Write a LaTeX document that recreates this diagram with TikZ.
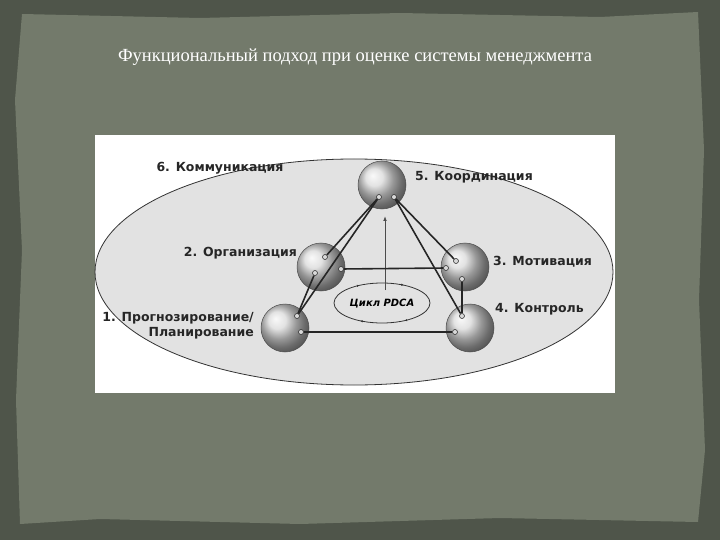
\documentclass[tikz,border=0pt]{standalone}
\usepackage{fontspec}
\setmainfont{Liberation Serif}
\newfontfamily\lblfont{DejaVu Sans}
\usetikzlibrary{arrows.meta,decorations.markings,shapes.geometric}
\definecolor{bgdark}{HTML}{4F554A}
\definecolor{slide}{HTML}{737A6B}
\definecolor{ellfill}{HTML}{E2E2E2}
\tikzset{
  lbl/.style={font=\lblfont\bfseries\fontsize{12.5}{15}\selectfont, text=black!85, inner sep=0pt},
  ball/.style={circle, minimum size=48pt, draw=gray!60!black, line width=0.5pt, shading=ball, ball color=gray!30},
  port/.style={circle, minimum size=5pt, inner sep=0pt, draw=black!80, fill=gray!30, line width=0.6pt},
  link/.style={line width=1.6pt, black!85},
}
\begin{document}
\begin{tikzpicture}[x=1pt,y=-1pt]
\useasboundingbox (0,0) rectangle (720,540);
\fill[bgdark] (0,0) rectangle (720,540);
\fill[slide] (22,14) -- (200,18) -- (400,13) -- (600,17) -- (698,12) -- (704,150) -- (699,300) -- (705,450) -- (698,522) -- (500,518) -- (300,524) -- (100,519) -- (20,524) -- (16,400) -- (22,250) -- (15,100) -- cycle;
\node[text=white!95, font=\fontsize{18.5}{21}\selectfont] (title) at (355,57) {Функциональный подход при оценке системы менеджмента};
\fill[white] (95,135) rectangle (615,393);
\node[draw=black!80, line width=0.8pt, fill=ellfill, ellipse, minimum width=518pt, minimum height=226pt, inner sep=0pt] (ell) at (354,272) {};
\node[lbl] (l6) at (220,168) {6. Коммуникация};
% PDCA cycle
\draw[black!80, line width=0.8pt, postaction={decorate}, decoration={markings,
  mark=at position 0.15 with {\arrow{Latex[length=3pt]}},
  mark=at position 0.35 with {\arrow{Latex[length=3pt]}},
  mark=at position 0.65 with {\arrow{Latex[length=3pt]}},
  mark=at position 0.85 with {\arrow{Latex[length=3pt]}}}]
  (382,303) ellipse [x radius=48, y radius=20];
\node[font=\lblfont\bfseries\itshape\fontsize{10}{12}\selectfont] (pdca) at (382,304) {Цикл PDCA};
\coordinate (vb) at (385,290);
\coordinate (vt) at (385,216);
\draw[gray!60!black, line width=1pt, -{Latex[length=5pt]}] (vb) -- (vt);
% balls
\node[ball] (b5) at (382,185) {};
\node[ball] (b2) at (321,267) {};
\node[ball] (b3) at (465,267) {};
\node[ball] (b1) at (285,328) {};
\node[ball] (b4) at (470,328) {};
% ports
\node[port] (p5a) at (379,197) {};
\node[port] (p5b) at (394,197) {};
\node[port] (p2a) at (325,257) {};
\node[port] (p2b) at (315,273) {};
\node[port] (p2c) at (341,269) {};
\node[port] (p3a) at (456,261) {};
\node[port] (p3b) at (462,279) {};
\node[port] (p3c) at (446,268) {};
\node[port] (p1a) at (297,316) {};
\node[port] (p1b) at (301,332) {};
\node[port] (p4a) at (462,316) {};
\node[port] (p4b) at (455,332) {};
% links
\draw[link] (p5a) -- (p2a);
\draw[link] (p5a) -- (p1a);
\draw[link] (p2b) -- (p1a);
\draw[link] (p5b) -- (p3a);
\draw[link] (p5b) -- (p4a);
\draw[link] (p3b) -- (p4a);
\draw[link] (p2c) -- (p3c);
\draw[link] (p1b) -- (p4b);
% labels
\node[lbl, anchor=west] (l5) at (415,177) {5. Координация};
\node[lbl, anchor=east] (l2) at (297,253) {2. Организация};
\node[lbl, anchor=west] (l3) at (493,262) {3. Мотивация};
\node[lbl, anchor=west] (l4) at (495,309) {4. Контроль};
\node[lbl, anchor=east, align=right] (l1) at (254,326) {1. Прогнозирование/\\Планирование};
\end{tikzpicture}
\end{document}
